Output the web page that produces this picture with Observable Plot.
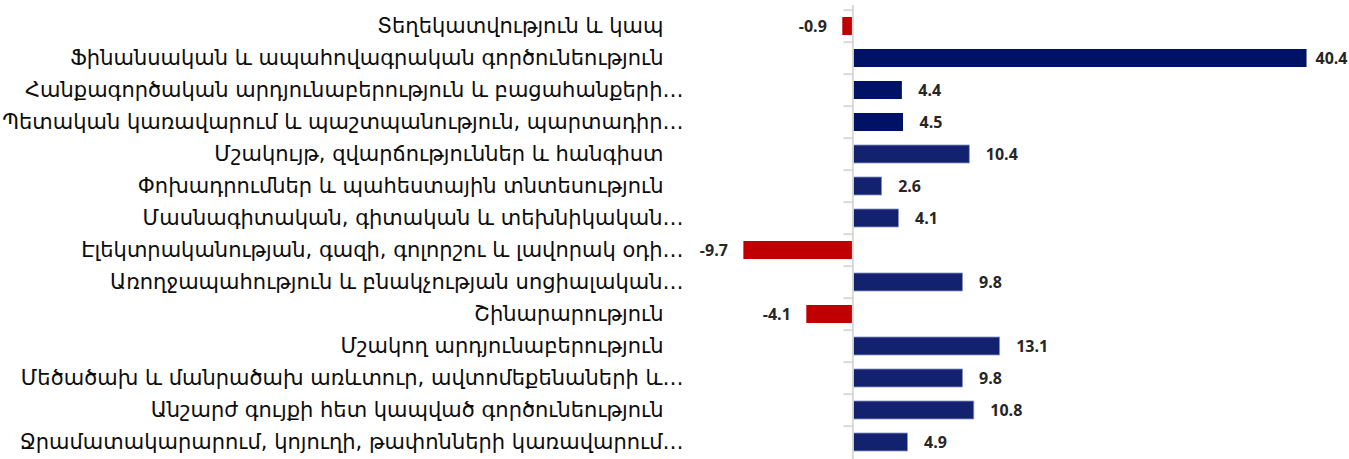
<!DOCTYPE html>
<html>
<head>
<meta charset="utf-8">
<script src="https://cdn.jsdelivr.net/npm/d3@7"></script>
<script src="https://cdn.jsdelivr.net/npm/@observablehq/plot@0.6"></script>
<style>
  html, body { margin: 0; padding: 0; background: #fff; }
  #chart svg text { white-space: pre; }
</style>
</head>
<body>
<div id="chart"></div>
<script>
const NB = "\u00a0\u00a0\u00a0";
const categories = [
  "Տեղեկատվություն և կապ" + NB,
  "Ֆինանսական և ապահովագրական գործունեություն" + NB,
  "Հանքագործական արդյունաբերություն և բացահանքերի…",
  "Պետական կառավարում և պաշտպանություն, պարտադիր…",
  "Մշակույթ, զվարճություններ և հանգիստ" + NB,
  "Փոխադրումներ և պահեստային տնտեսություն" + NB,
  "Մասնագիտական, գիտական և տեխնիկական…",
  "Էլեկտրականության, գազի, գոլորշու և լավորակ օդի…",
  "Առողջապահություն և բնակչության սոցիալական…",
  "Շինարարություն" + NB,
  "Մշակող արդյունաբերություն" + NB,
  "Մեծածախ և մանրածախ առևտուր, ավտոմեքենաների և…",
  "Անշարժ գույքի հետ կապված գործունեություն" + NB,
  "Ջրամատակարարում, կոյուղի, թափոնների կառավարում…"
];
const values = [-0.9, 40.4, 4.4, 4.5, 10.4, 2.6, 4.1, -9.7, 9.8, -4.1, 13.1, 9.8, 10.8, 4.9];

const data = categories.map((c, i) => ({category: c, value: values[i], i}));
const darkRows = new Set([1, 2, 3]);
const fillOf = d => d.value < 0 ? "#C00000" : (darkRows.has(d.i) ? "#001266" : "#13226F");
const strokeOf = d => d.value < 0 ? "none" : (darkRows.has(d.i) ? "none" : "#8C96C8");
const fmt = d => d.toFixed(1);
const xMax = 44;
const fitsRight = d => d.value >= 0 && d.value < xMax - 6;
const pinRight = d => d.value >= xMax - 6;
const labelStyle = {fontSize: 16, fontWeight: "bold", fill: "#262626", fontFamily: "Open Sans"};

const chart = Plot.plot({
  width: 1349,
  height: 459,
  marginLeft: 740,
  marginRight: 2,
  marginTop: 5,
  marginBottom: 0,
  style: {background: "#fff"},
  x: {domain: [-10, xMax], axis: null},
  y: {domain: categories, range: [5, 463.5], paddingInner: 0.45, paddingOuter: 0.225, label: null},
  marks: [
    Plot.axisY({tickSize: 0, tickPadding: 57, fontSize: 21, fill: "#0d0d0d", fontFamily: "DejaVu Sans", label: null}),
    Plot.barX(data, {x: "value", y: "category", fill: fillOf, stroke: strokeOf, strokeWidth: 0.8}),
    Plot.ruleX([0], {stroke: "#D9D9D9", strokeWidth: 2}),
    Plot.ruleY(categories, {y: d => d, x1: -0.8, x2: 0, dy: -16.375, stroke: "#D9D9D9", strokeWidth: 2}),
    Plot.text(data.filter(fitsRight), {x: "value", y: "category", text: d => fmt(d.value), textAnchor: "start", dx: 16, ...labelStyle}),
    Plot.text(data.filter(pinRight), {y: "category", frameAnchor: "right", text: d => fmt(d.value), textAnchor: "end", dx: 0, ...labelStyle}),
    Plot.text(data.filter(d => d.value < 0), {x: "value", y: "category", text: d => fmt(d.value), textAnchor: "end", dx: -16, ...labelStyle})
  ]
});
document.getElementById("chart").appendChild(chart);
</script>
</body>
</html>
